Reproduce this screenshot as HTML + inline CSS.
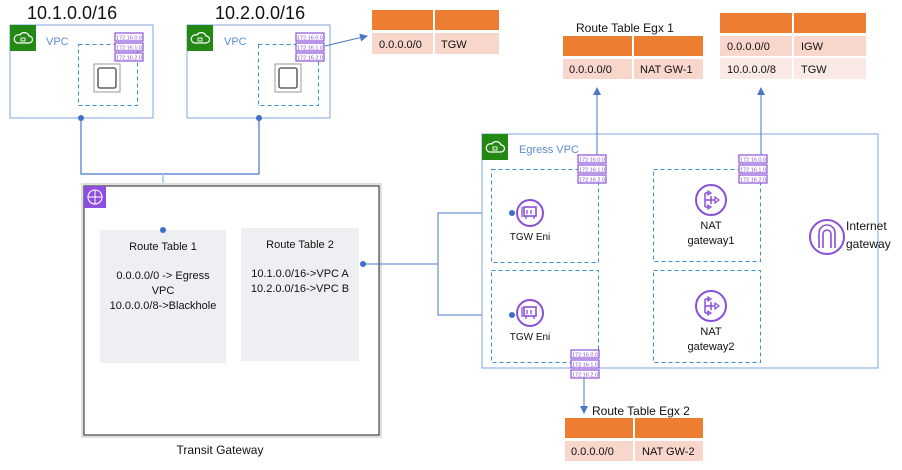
<!DOCTYPE html>
<html><head><meta charset="utf-8"><style>
html,body{margin:0;padding:0;background:#fff;width:902px;height:470px;overflow:hidden}
text{font-family:"Liberation Sans",sans-serif}
</style></head><body>
<svg width="902" height="470" viewBox="0 0 902 470" xmlns="http://www.w3.org/2000/svg">
<defs>
<marker id="ar" markerWidth="8" markerHeight="8" refX="7" refY="4" orient="auto" markerUnits="userSpaceOnUse"><path d="M0,0 L8,4 L0,8 z" fill="#4a78c8"/></marker>
<g id="tags">
<rect x="0" y="0" width="28" height="8" fill="#fff" stroke="#8a4fd8" stroke-width="1.2"/>
<rect x="0" y="10" width="28" height="8" fill="#fff" stroke="#8a4fd8" stroke-width="1.2"/>
<rect x="0" y="20" width="28" height="8" fill="#fff" stroke="#8a4fd8" stroke-width="1.2"/>
<text x="14" y="6.5" font-size="5.5" fill="#8a4fd8" text-anchor="middle">172.16.0.0</text>
<text x="14" y="16.5" font-size="5.5" fill="#8a4fd8" text-anchor="middle">172.16.1.0</text>
<text x="14" y="26.5" font-size="5.5" fill="#8a4fd8" text-anchor="middle">172.16.2.0</text>
</g>
<g id="cloud">
<rect x="0" y="0" width="26" height="26" fill="#248814"/>
<path d="M7,18 h12 a3.5,3.5 0 0 0 0,-7 a5,5 0 0 0 -9,-1 a4,4 0 0 0 -3,8z" fill="none" stroke="#fff" stroke-width="1.2"/>
<rect x="11" y="13" width="4" height="3" fill="none" stroke="#fff" stroke-width="0.9"/>
</g>
<g id="inst">
<rect x="0" y="0" width="26" height="28" fill="#fff" stroke="#999" stroke-width="1"/>
<rect x="4" y="4" width="18" height="20" rx="2" fill="none" stroke="#444" stroke-width="1.3"/>
</g>
<g id="eni">
<circle cx="0" cy="0" r="13" fill="#fff" stroke="#8a4fd8" stroke-width="2"/>
<rect x="-6" y="-6" width="12" height="9" fill="none" stroke="#8a4fd8" stroke-width="1.6"/>
<path d="M-8,-6 v10 M-3,-3 v4 M1,-3 v4 M-4,3 v3 M4,3 v3" stroke="#8a4fd8" stroke-width="1.3"/>
</g>
<g id="nat">
<circle cx="0" cy="0" r="15" fill="#fff" stroke="#8a4fd8" stroke-width="2"/>
<path d="M-6,-7 v14 M-6,-7 h4 M-6,0 h10 M-6,7 h4 M0,-4 v8" stroke="#8a4fd8" stroke-width="1.5" fill="none"/>
<path d="M4,-3 l4,3 l-4,3z M-3,-9 l3,2 l-3,2z M-3,5 l3,2 l-3,2z" fill="none" stroke="#8a4fd8" stroke-width="1.2"/>
</g>
</defs>

<!-- VPC labels -->
<text x="27" y="19" font-size="18" fill="#111">10.1.0.0/16</text>
<text x="215" y="19" font-size="18" fill="#111">10.2.0.0/16</text>

<!-- VPC1 -->
<rect x="10" y="25" width="143" height="93" fill="#fff" stroke="#7fa7dc" stroke-width="1"/>
<use href="#cloud" x="10" y="25"/>
<text x="46" y="45" font-size="11" fill="#5b8fd4">VPC</text>
<rect x="78.5" y="44.5" width="59" height="61" fill="none" stroke="#3a8fd0" stroke-dasharray="4,3"/>
<use href="#tags" x="115" y="33"/>
<use href="#inst" x="94" y="64"/>
<!-- VPC2 -->
<rect x="187" y="25" width="143" height="93" fill="#fff" stroke="#7fa7dc" stroke-width="1"/>
<use href="#cloud" x="187" y="25"/>
<text x="224" y="45" font-size="11" fill="#5b8fd4">VPC</text>
<rect x="258.5" y="44.5" width="60" height="61" fill="none" stroke="#3a8fd0" stroke-dasharray="4,3"/>
<use href="#tags" x="296" y="33"/>
<use href="#inst" x="275" y="64"/>
<line x1="325" y1="46" x2="367" y2="36" stroke="#4a78c8" stroke-width="1" marker-end="url(#ar)"/>

<!-- connectors VPC -> TGW -->
<path d="M81,118 V174 H259 V118" fill="none" stroke="#4a78c8" stroke-width="1.2"/>
<line x1="163" y1="174" x2="163" y2="230" stroke="#a8c0e4" stroke-width="1.5"/>
<circle cx="81" cy="118" r="3" fill="#3f6fc8"/>
<circle cx="259" cy="118" r="3" fill="#3f6fc8"/>

<!-- top table -->
<rect x="372" y="10" width="61" height="20" fill="#ed7d31"/>
<rect x="435" y="10" width="64" height="20" fill="#ed7d31"/>
<rect x="372" y="33" width="61" height="21" fill="#f8d6cc"/>
<rect x="435" y="33" width="64" height="21" fill="#f8d6cc"/>
<text x="379" y="48" font-size="11" fill="#111">0.0.0.0/0</text>
<text x="441" y="48" font-size="11" fill="#111">TGW</text>

<!-- Transit gateway -->
<rect x="81" y="183" width="301" height="255" fill="#e0e0e0"/>
<rect x="84" y="186" width="295" height="249" fill="#fff" stroke="#222" stroke-width="1"/>
<rect x="84" y="186" width="22" height="22" fill="#8c4fe0"/>
<circle cx="95" cy="197" r="7" fill="none" stroke="#fff" stroke-width="1.1"/>
<path d="M88,197 h14 M95,190 v14" stroke="#fff" stroke-width="1"/>
<rect x="100" y="230" width="126" height="133" fill="#eeeff2"/>
<rect x="241" y="228" width="118" height="133" fill="#eeeff2"/>
<circle cx="163" cy="230" r="3" fill="#3f6fc8"/>
<text x="163" y="250" font-size="11" fill="#111" text-anchor="middle">Route Table 1</text>
<text x="163" y="279" font-size="11" fill="#111" text-anchor="middle">0.0.0.0/0 -&gt; Egress</text>
<text x="163" y="294" font-size="11" fill="#111" text-anchor="middle">VPC</text>
<text x="163" y="309" font-size="11" fill="#111" text-anchor="middle">10.0.0.0/8-&gt;Blackhole</text>
<text x="300" y="248" font-size="11" fill="#111" text-anchor="middle">Route Table 2</text>
<text x="300" y="277" font-size="11" fill="#111" text-anchor="middle">10.1.0.0/16-&gt;VPC A</text>
<text x="300" y="292" font-size="11" fill="#111" text-anchor="middle">10.2.0.0/16-&gt;VPC B</text>
<text x="220" y="454" font-size="12" fill="#111" text-anchor="middle">Transit Gateway</text>

<!-- TGW to ENIs -->
<path d="M363,264 H438 V213 H512 M438,264 V315 H512" fill="none" stroke="#4a78c8" stroke-width="1"/>
<circle cx="363" cy="264" r="3" fill="#3f6fc8"/>

<!-- Egress VPC -->
<rect x="482" y="134" width="396" height="234" fill="#fff" stroke="#7fa7dc" stroke-width="1"/>
<use href="#cloud" x="482" y="134"/>
<text x="519" y="153" font-size="11" fill="#5b8fd4">Egress VPC</text>
<rect x="491.5" y="169.5" width="107" height="93" fill="none" stroke="#3a8fd0" stroke-dasharray="4,3"/>
<rect x="491.5" y="270.5" width="107" height="92" fill="none" stroke="#3a8fd0" stroke-dasharray="4,3"/>
<rect x="653.5" y="169.5" width="107" height="92" fill="none" stroke="#3a8fd0" stroke-dasharray="4,3"/>
<rect x="653.5" y="270.5" width="107" height="92" fill="none" stroke="#3a8fd0" stroke-dasharray="4,3"/>
<use href="#tags" x="578" y="155"/>
<use href="#tags" x="739" y="155"/>
<use href="#tags" x="571" y="350"/>
<line x1="597" y1="155" x2="597" y2="88" stroke="#4a78c8" stroke-width="1" marker-end="url(#ar)"/>
<line x1="761" y1="155" x2="761" y2="88" stroke="#4a78c8" stroke-width="1" marker-end="url(#ar)"/>
<line x1="584" y1="378" x2="584" y2="413" stroke="#4a78c8" stroke-width="1" marker-end="url(#ar)"/>

<use href="#eni" x="530" y="213"/>
<circle cx="512" cy="213" r="3" fill="#3f6fc8"/>
<text x="530" y="240" font-size="10" fill="#111" text-anchor="middle">TGW Eni</text>
<use href="#eni" x="530" y="313"/>
<circle cx="512" cy="315" r="3" fill="#3f6fc8"/>
<text x="530" y="340" font-size="10" fill="#111" text-anchor="middle">TGW Eni</text>
<use href="#nat" x="711" y="200"/>
<text x="711" y="229" font-size="11" fill="#111" text-anchor="middle">NAT</text>
<text x="711" y="244" font-size="11" fill="#111" text-anchor="middle">gateway1</text>
<use href="#nat" x="711" y="306"/>
<text x="711" y="335" font-size="11" fill="#111" text-anchor="middle">NAT</text>
<text x="711" y="350" font-size="11" fill="#111" text-anchor="middle">gateway2</text>

<circle cx="827" cy="237" r="17" fill="#fff" stroke="#8a4fd8" stroke-width="2"/>
<path d="M819,248 V233 a8,8 0 0 1 16,0 V248 M823,248 V234 a4,4 0 0 1 8,0 V248" fill="none" stroke="#8a4fd8" stroke-width="1.6"/>
<text x="846" y="230" font-size="12" fill="#111">Internet</text>
<text x="846" y="248" font-size="12" fill="#111">gateway</text>

<!-- Egx1 -->
<text x="576" y="32" font-size="12" fill="#111">Route Table Egx 1</text>
<rect x="563" y="36" width="69" height="20" fill="#ed7d31"/>
<rect x="634" y="36" width="69" height="20" fill="#ed7d31"/>
<rect x="563" y="59" width="69" height="20" fill="#f8d6cc"/>
<rect x="634" y="59" width="69" height="20" fill="#f8d6cc"/>
<text x="569" y="73" font-size="11" fill="#111">0.0.0.0/0</text>
<text x="640" y="73" font-size="11" fill="#111">NAT GW-1</text>

<!-- right table -->
<rect x="720" y="13" width="72" height="20" fill="#ed7d31"/>
<rect x="794" y="13" width="72" height="20" fill="#ed7d31"/>
<rect x="720" y="36" width="72" height="20" fill="#f8d6cc"/>
<rect x="794" y="36" width="72" height="20" fill="#f8d6cc"/>
<rect x="720" y="58" width="72" height="21" fill="#fbe9e5"/>
<rect x="794" y="58" width="72" height="21" fill="#fbe9e5"/>
<text x="727" y="50" font-size="11" fill="#111">0.0.0.0/0</text>
<text x="801" y="50" font-size="11" fill="#111">IGW</text>
<text x="727" y="73" font-size="11" fill="#111">10.0.0.0/8</text>
<text x="801" y="73" font-size="11" fill="#111">TGW</text>

<!-- Egx2 -->
<text x="592" y="415" font-size="12" fill="#111">Route Table Egx 2</text>
<rect x="565" y="418" width="68" height="20" fill="#ed7d31"/>
<rect x="635" y="418" width="68" height="20" fill="#ed7d31"/>
<rect x="565" y="441" width="68" height="20" fill="#f8d6cc"/>
<rect x="635" y="441" width="68" height="20" fill="#f8d6cc"/>
<text x="571" y="455" font-size="11" fill="#111">0.0.0.0/0</text>
<text x="642" y="455" font-size="11" fill="#111">NAT GW-2</text>
</svg>
</body></html>
